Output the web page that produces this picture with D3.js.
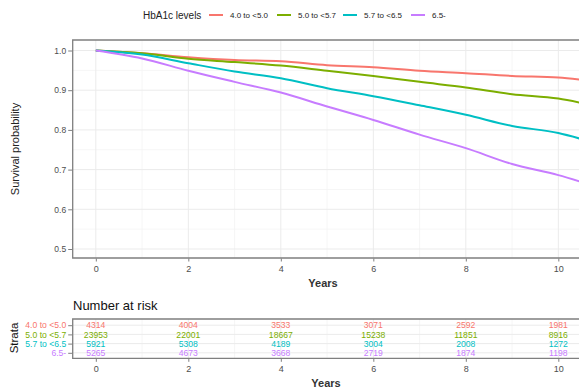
<!DOCTYPE html>
<html>
<head>
<meta charset="utf-8">
<script src="https://cdn.jsdelivr.net/npm/d3@7"></script>
<style>
  html, body { margin: 0; padding: 0; background: #fff; }
  svg { display: block; font-family: "Liberation Sans", Arial, sans-serif; }
</style>
</head>
<body>
<svg id="chart" width="579" height="392"></svg>
<script>
// ---- data ----
const groups = ["4.0 to <5.0", "5.0 to <5.7", "5.7 to <6.5", "6.5-"];
const colors = ["#F8766D", "#7CAE00", "#00BFC4", "#C77CFF"];
const years = [0, 1, 2, 3, 4, 5, 6, 7, 8, 9, 10, 10.5];
const surv40 = [1, 0.993, 0.983, 0.976, 0.973, 0.963, 0.958, 0.949, 0.943, 0.936, 0.932, 0.926];
const surv50 = [1, 0.993, 0.979, 0.971, 0.962, 0.949, 0.936, 0.921, 0.907, 0.890, 0.879, 0.868];
const surv57 = [1, 0.990, 0.968, 0.947, 0.930, 0.905, 0.885, 0.862, 0.838, 0.810, 0.792, 0.777];
const surv65 = [1, 0.980, 0.949, 0.921, 0.894, 0.859, 0.825, 0.788, 0.754, 0.714, 0.686, 0.669];
const riskYears = [0, 2, 4, 6, 8, 10];
const risk40 = [4314, 4004, 3533, 3071, 2592, 1981];
const risk50 = [23953, 22001, 18667, 15238, 11851, 8916];
const risk57 = [5921, 5308, 4189, 3004, 2008, 1272];
const risk65 = [5265, 4673, 3668, 2719, 1874, 1198];
const yTicks = [0.5, 0.6, 0.7, 0.8, 0.9, 1.0];
const xTicks = [0, 2, 4, 6, 8, 10];

const survSeries = [surv40, surv50, surv57, surv65];
const riskSeries = [risk40, risk50, risk57, risk65];

const svg = d3.select("#chart");
const gridMajor = "#EBEBEB", gridMinor = "#F4F4F4", border = "#7F7F7F", tickCol = "#4D4D4D";

// ---- scales ----
const x = d3.scaleLinear().domain([-0.5, 11.5]).range([72.7, 627.7]);
const y = d3.scaleLinear().domain([0.5, 1.0]).range([249, 50.5]);
const panelTop = 40, panelBottom = 258;
const xl = x(-0.5), xr = 640;

// ---- main panel grid ----
const main = svg.append("g");
const minorY = [0.55, 0.65, 0.75, 0.85, 0.95];
main.selectAll(".gmy").data(minorY).enter().append("line")
  .attr("x1", xl).attr("x2", xr).attr("y1", d => y(d)).attr("y2", d => y(d))
  .attr("stroke", gridMinor).attr("stroke-width", 0.8);
main.selectAll(".gmx").data([1, 3, 5, 7, 9, 11]).enter().append("line")
  .attr("x1", d => x(d)).attr("x2", d => x(d)).attr("y1", panelTop).attr("y2", panelBottom)
  .attr("stroke", gridMinor).attr("stroke-width", 0.8);
main.selectAll(".gy").data(yTicks).enter().append("line")
  .attr("x1", xl).attr("x2", xr).attr("y1", d => y(d)).attr("y2", d => y(d))
  .attr("stroke", gridMajor).attr("stroke-width", 1);
main.selectAll(".gx").data(xTicks).enter().append("line")
  .attr("x1", d => x(d)).attr("x2", d => x(d)).attr("y1", panelTop).attr("y2", panelBottom)
  .attr("stroke", gridMajor).attr("stroke-width", 1);

// clip
svg.append("clipPath").attr("id", "clipMain").append("rect")
  .attr("x", xl).attr("y", panelTop).attr("width", xr - xl).attr("height", panelBottom - panelTop);

// ---- curves ----
const line = d3.line().x(d => x(d[0])).y(d => y(d[1])).curve(d3.curveMonotoneX);
const curves = main.append("g").attr("clip-path", "url(#clipMain)");
survSeries.forEach((s, i) => {
  curves.append("path")
    .datum(years.map((t, j) => [t, s[j]]))
    .attr("d", line)
    .attr("fill", "none")
    .attr("stroke", colors[i])
    .attr("stroke-width", 2)
    .attr("stroke-linejoin", "round");
});

// panel border
main.append("path")
  .attr("d", `M${xr},${panelTop}H${xl}V${panelBottom}H${xr}`)
  .attr("fill", "none").attr("stroke", border).attr("stroke-width", 1.3);

// ---- axes ----
const yAxis = d3.axisLeft(y).tickValues(yTicks).tickFormat(d3.format(".1f")).tickSize(4).tickPadding(2);
const gY = svg.append("g").attr("transform", `translate(${xl - 0.5},0)`).call(yAxis);
gY.select(".domain").remove();
gY.selectAll("line").attr("stroke", border);
gY.selectAll("text").attr("fill", tickCol).attr("font-size", 8.5).attr("font-family", "Liberation Sans, Arial, sans-serif");

const xAxis = d3.axisBottom(x).tickValues(xTicks).tickSize(3).tickPadding(4);
const gX = svg.append("g").attr("transform", `translate(0,${panelBottom + 0.5})`).call(xAxis);
gX.select(".domain").remove();
gX.selectAll("line").attr("stroke", border);
gX.selectAll("text").attr("fill", tickCol).attr("font-size", 9).attr("font-family", "Liberation Sans, Arial, sans-serif");

svg.append("text").attr("x", 323).attr("y", 286.5).attr("text-anchor", "middle")
  .attr("font-size", 11).attr("font-weight", "bold").attr("fill", "#333").text("Years");
svg.append("text").attr("transform", "translate(19,149) rotate(-90)").attr("text-anchor", "middle")
  .attr("font-size", 11).attr("fill", "#222").text("Survival probability");

// ---- legend ----
const lg = svg.append("g");
lg.append("text").attr("x", 143).attr("y", 18.5).attr("font-size", 10).attr("fill", "#222").text("HbA1c levels");
const keyX = [209, 277, 343, 411];
groups.forEach((g, i) => {
  lg.append("line").attr("x1", keyX[i]).attr("x2", keyX[i] + 14).attr("y1", 15).attr("y2", 15)
    .attr("stroke", colors[i]).attr("stroke-width", 2);
  lg.append("text").attr("x", keyX[i] + 21).attr("y", 18).attr("font-size", 8).attr("fill", "#222").text(g);
});

// ---- risk table ----
const rTop = 319, rBottom = 358.3;
const ry = d3.scalePoint().domain(groups).range([325.2, 352.8]);
const risk = svg.append("g");
risk.append("text").attr("x", 73).attr("y", 310).attr("font-size", 13).attr("fill", "#111").text("Number at risk");

risk.selectAll(".rgx").data([-0.5, 1, 3, 5, 7, 9, 11]).enter().append("line")
  .attr("x1", d => x(d)).attr("x2", d => x(d)).attr("y1", rTop).attr("y2", rBottom)
  .attr("stroke", gridMinor).attr("stroke-width", 0.8);
risk.selectAll(".rgx2").data(xTicks).enter().append("line")
  .attr("x1", d => x(d)).attr("x2", d => x(d)).attr("y1", rTop).attr("y2", rBottom)
  .attr("stroke", gridMajor).attr("stroke-width", 1);
risk.selectAll(".rgy").data(groups).enter().append("line")
  .attr("x1", xl).attr("x2", xr).attr("y1", d => ry(d)).attr("y2", d => ry(d))
  .attr("stroke", gridMajor).attr("stroke-width", 1);

riskSeries.forEach((s, i) => {
  risk.selectAll(".rv" + i).data(s).enter().append("text")
    .attr("x", (d, j) => x(riskYears[j]))
    .attr("y", ry(groups[i]) + 3.1)
    .attr("text-anchor", "middle")
    .attr("font-size", 8.6)
    .attr("fill", colors[i])
    .text(d => d);
});

risk.append("path")
  .attr("d", `M${xr},${rTop}H${xl}V${rBottom}H${xr}`)
  .attr("fill", "none").attr("stroke", border).attr("stroke-width", 1.3);

const ryAxis = d3.axisLeft(ry).tickSize(4).tickPadding(2);
const gRY = svg.append("g").attr("transform", `translate(${xl - 0.5},0)`).call(ryAxis);
gRY.select(".domain").remove();
gRY.selectAll("line").attr("stroke", border);
gRY.selectAll("text").attr("fill", (d, i) => colors[i]).attr("font-size", 8.6)
  .attr("font-family", "Liberation Sans, Arial, sans-serif");

const rxAxis = d3.axisBottom(x).tickValues(xTicks).tickSize(3).tickPadding(4);
const gRX = svg.append("g").attr("transform", `translate(0,${rBottom + 0.5})`).call(rxAxis);
gRX.select(".domain").remove();
gRX.selectAll("line").attr("stroke", border);
gRX.selectAll("text").attr("fill", tickCol).attr("font-size", 9).attr("font-family", "Liberation Sans, Arial, sans-serif");

svg.append("text").attr("x", 326).attr("y", 386.5).attr("text-anchor", "middle")
  .attr("font-size", 11).attr("font-weight", "bold").attr("fill", "#333").text("Years");
svg.append("text").attr("transform", "translate(18,338) rotate(-90)").attr("text-anchor", "middle")
  .attr("font-size", 11.5).attr("fill", "#111").text("Strata");
</script>
</body>
</html>
